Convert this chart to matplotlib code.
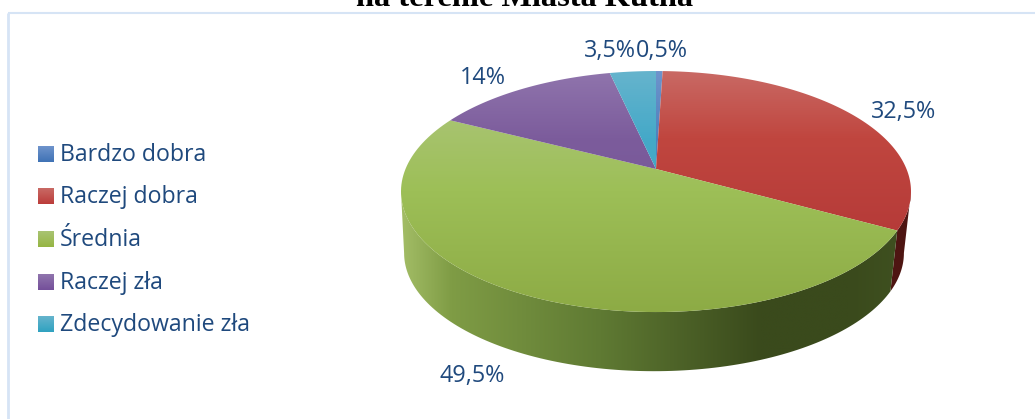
import numpy as np
import matplotlib
matplotlib.use('Agg')
from matplotlib import pyplot as plt
from matplotlib.colors import LinearSegmentedColormap
from matplotlib.patches import Polygon, Rectangle

# chart data
categories = ['Bardzo dobra', 'Raczej dobra', 'Średnia', 'Raczej zła', 'Zdecydowanie zła']
values = [0.5, 32.5, 49.5, 14, 3.5]
value_labels = ['0,5%', '32,5%', '49,5%', '14%', '3,5%']
title_text = 'na terenie Miasta Kutna'

TEXT_COL = '#1f497d'
FONT = 'Open Sans'

# top, middle, bottom colour of each slice
top_cols = [('#6f94cc', '#4f81bd', '#4a7ebb'), ('#c96a65', '#c0463f', '#b53a38'),
            ('#a9c473', '#9dbf57', '#8dab45'), ('#9075ad', '#7c5c9c', '#745696'),
            ('#66b4cd', '#45a9c8', '#3da7c5')]
legend_cols = [('#6f94cc', '#3f72b5'), ('#c96a65', '#bb3c3a'), ('#a9c473', '#96b543'),
               ('#9075ad', '#744f9a'), ('#66b4cd', '#2fa2c0')]

# label positions (pixels)
label_xy = [(662, 51), (904, 112), (472, 376), (483, 78), (610, 51)]

# perspective of the pie: circle -> ellipse with the apex off centre
K = 0.187
def rim(theta, cx, apex_y, s):
    den = 1 + K * np.cos(theta)
    x = cx + s * 250.5 * np.sin(theta) / den
    y = apex_y - s * 116.3 * np.cos(theta) / den
    return np.column_stack([x, y])

fig = plt.figure(figsize=(10.35, 4.19), dpi=100)
ax = fig.add_axes([0, 0, 1, 1])
ax.set_xlim(0, 1035)
ax.set_ylim(419, 0)
ax.axis('off')

def gradient(patch, cols, extent, horizontal=False, nodes=None):
    ax.add_patch(patch)
    patch.set_facecolor('none')
    patch.set_edgecolor('none')
    if nodes is None:
        cmap = LinearSegmentedColormap.from_list('g', cols)
    else:
        cmap = LinearSegmentedColormap.from_list('g', list(zip(nodes, cols)))
    g = np.linspace(0, 1, 256)
    g = g.reshape(1, -1) if horizontal else g.reshape(-1, 1)
    im = ax.imshow(g, cmap=cmap, extent=extent, aspect='auto', origin='upper',
                   interpolation='bilinear', zorder=2)
    im.set_clip_path(patch)
    return im

# frame: only the top and left lines are in the picture
ax.plot([8, 8], [13, 419], color='#d6e4f5', lw=2, zorder=1, solid_capstyle='butt')
ax.plot([8, 1035], [13, 13], color='#d6e4f5', lw=1.5, zorder=1, solid_capstyle='butt')

cx, apex_y = 656, 169
bx, bapex_y, bs = 654, 231, 0.98

edges = np.radians(np.cumsum([0] + values) * 3.6)
right_ext = np.arccos(-K)
left_ext = 2 * np.pi - right_ext

# side wall
def wall(t0, t1):
    t = np.linspace(t0, t1, 120)
    return np.vstack([rim(t, cx, apex_y, 1), rim(t[::-1], bx, bapex_y, bs)])

red_wall = Polygon(wall(right_ext, edges[2]), closed=True, fc='#4e1512', ec='none', zorder=1)
ax.add_patch(red_wall)

green_wall = Polygon(wall(edges[2], left_ext), closed=True)
gradient(green_wall, ['#a3bd66', '#7f9c45', '#5f7a33', '#3a4a1c', '#3a4a1c', '#3f5020'],
         (401, 900, 375, 180), horizontal=True, nodes=[0, 0.1, 0.4, 0.72, 0.9, 1])

# top face
for i in range(len(values)):
    t = np.linspace(edges[i], edges[i + 1], 120)
    pts = np.vstack([[[cx, apex_y]], rim(t, cx, apex_y, 1)])
    if i == 2:
        # the green slice starts lower down
        ext = (400, 912, 312, 110)
        nodes = [0, 0.4, 1]
    else:
        ext = (400, 912, 240, 71)
        nodes = [0, 0.4, 1]
    gradient(Polygon(pts, closed=True), top_cols[i], ext, nodes=nodes)

# data labels
for (x, y), txt in zip(label_xy, value_labels):
    ax.text(x, y, txt, color=TEXT_COL, fontsize=16.8, family=FONT, ha='center', va='center', zorder=3)

# legend
leg_y = [155, 197, 240, 283, 325]
for y, name, c in zip(leg_y, categories, legend_cols):
    gradient(Rectangle((38, y - 9), 16, 16), c, (38, 54, y + 7, y - 9))
    ax.text(60, y, name, color=TEXT_COL, fontsize=16.7, family=FONT, ha='left', va='center', zorder=3)

ax.text(525, 6, title_text, color='black', fontsize=23.3, family='Liberation Serif',
        weight='bold', ha='center', va='baseline', zorder=3)

ax.set_xlim(0, 1035)
ax.set_ylim(419, 0)
fig.savefig('out.png', dpi=100)
